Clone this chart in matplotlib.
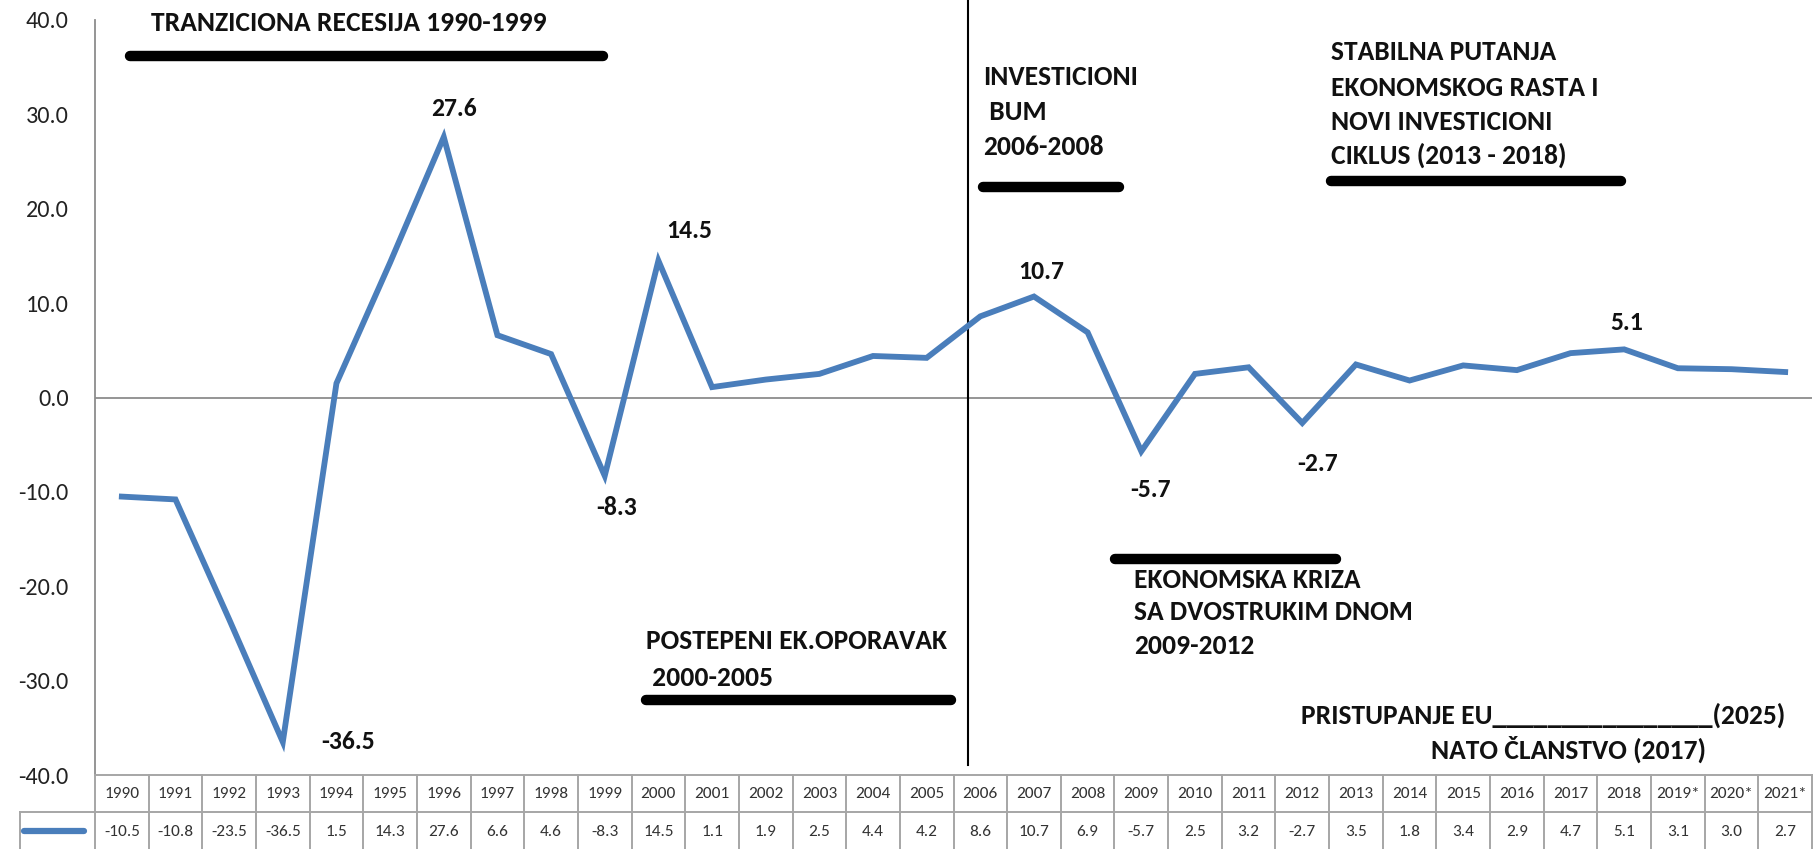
import matplotlib
matplotlib.use("Agg")
import matplotlib.pyplot as plt
import matplotlib.transforms as mtrans
from matplotlib import font_manager as fm

# ---------------- data ----------------
years = ["1990", "1991", "1992", "1993", "1994", "1995", "1996", "1997", "1998", "1999",
         "2000", "2001", "2002", "2003", "2004", "2005", "2006", "2007", "2008", "2009",
         "2010", "2011", "2012", "2013", "2014", "2015", "2016", "2017", "2018", "2019*",
         "2020*", "2021*"]
growth = [-10.5, -10.8, -23.5, -36.5, 1.5, 14.3, 27.6, 6.6, 4.6, -8.3,
          14.5, 1.1, 1.9, 2.5, 4.4, 4.2, 8.6, 10.7, 6.9, -5.7,
          2.5, 3.2, -2.7, 3.5, 1.8, 3.4, 2.9, 4.7, 5.1, 3.1,
          3.0, 2.7]
labelled_years = ["1993", "1996", "1999", "2000", "2007", "2009", "2012", "2018"]
yticks = [-40, -30, -20, -10, 0, 10, 20, 30, 40]

# ---------------- fonts ----------------
names = {f.name for f in fm.fontManager.ttflist}
cands = ["Carlito", "Liberation Sans Narrow", "Roboto Condensed", "Open Sans Condensed",
         "Arial Narrow", "Lato", "Noto Sans", "DejaVu Sans"]
FONT = next(c for c in cands if c in names)
FAM = [FONT, "DejaVu Sans"]
plt.rcParams["font.family"] = FAM
plt.rcParams["axes.unicode_minus"] = False

W, H = 1818, 849
fig = plt.figure(figsize=(W / 100, H / 100), dpi=100)
ax = fig.add_axes([95 / W, 1 - 775 / H, (1812 - 95) / W, (775 - 20) / H])
renderer = fig.canvas.get_renderer()


def fit(s, target_px, weight="normal"):
    t = fig.text(0, 0, s, fontsize=10, fontweight=weight)
    w = t.get_window_extent(renderer=renderer).width
    t.remove()
    return 10 * target_px / w


ANN = fit("TRANZICIONA RECESIJA 1990-1999", 394, "bold")
LAB = fit("27.6", 46, "bold")
TCK = fit("40.0", 43)
TAB = fit("1990", 35)

BLUE = "#4a7ebb"
GRID = "#a6a6a6"

x = list(range(len(years)))
ax.plot(x, growth, color=BLUE, lw=4.2, solid_joinstyle="miter", zorder=3)
ax.axhline(0, color="#8c8c8c", lw=1.3, zorder=1)

ax.set_xlim(-0.5, len(years) - 0.5)
ax.set_ylim(-40, 40)
ax.set_yticks(yticks)
ax.set_yticklabels([f"{v:.1f}" for v in yticks], fontsize=TCK, color="#222222")
ax.set_xticks([])
ax.tick_params(axis="y", length=0, pad=19)
for s in ["top", "right", "bottom"]:
    ax.spines[s].set_visible(False)
ax.spines["left"].set_color("#8c8c8c")
ax.spines["left"].set_linewidth(1.3)

# data labels
offsets = {"1993": (65, 0), "1996": (10, 29), "1999": (12, -32), "2000": (31, 30),
           "2007": (7, 25), "2009": (9, -38), "2012": (15, -41), "2018": (3, 27)}
for yr in labelled_years:
    i = years.index(yr)
    ax.annotate(f"{growth[i]:.1f}", (i, growth[i]), xytext=offsets[yr],
                textcoords="offset pixels", ha="center", va="center",
                fontsize=LAB, fontweight="bold", color="#111111", zorder=4)

# vertical divider
ax.plot([15.77, 15.77], [42.2, -38.9], color="black", lw=1.5, clip_on=False, zorder=2)

# period bars
bar_kw = dict(color="black", lw=7.5, solid_capstyle="round", clip_on=False, zorder=2)
ax.plot([0.15, 8.97], [36.2, 36.2], **bar_kw)
ax.plot([16.05, 18.58], [22.3, 22.3], **bar_kw)
ax.plot([22.53, 27.94], [22.95, 22.95], **bar_kw)
ax.plot([9.77, 15.45], [-32.0, -32.0], **bar_kw)
ax.plot([18.51, 22.63], [-17.1, -17.1], **bar_kw)

tkw = dict(fontsize=ANN, fontweight="bold", color="#111111", va="center", clip_on=False)
ax.text(0.54, 39.7, "TRANZICIONA RECESIJA 1990-1999", ha="left", **tkw)
for txt, yy in zip(["INVESTICIONI", " BUM", "2006-2008"], [34.0, 30.2, 26.5]):
    ax.text(16.05, yy, txt, ha="left", **tkw)
for txt, yy in zip(["STABILNA PUTANJA", "EKONOMSKOG RASTA I", "NOVI INVESTICIONI",
                    "CIKLUS (2013 - 2018)"], [36.6, 32.8, 29.2, 25.7]):
    ax.text(22.53, yy, txt, ha="left", **tkw)
for txt, yy in zip(["POSTEPENI EK.OPORAVAK", " 2000-2005"], [-25.8, -29.7]):
    ax.text(9.77, yy, txt, ha="left", **tkw)
for txt, yy in zip(["EKONOMSKA KRIZA", "SA DVOSTRUKIM DNOM", "2009-2012"], [-19.3, -22.7, -26.3]):
    ax.text(18.86, yy, txt, ha="left", **tkw)
ax.text(31.0, -33.7, "PRISTUPANJE EU________________(2025)", ha="right", **tkw)
ax.text(26.97, -37.3, "NATO ČLANSTVO (2017)", ha="center", **tkw)

# ---------------- data table ----------------
tr = mtrans.blended_transform_factory(ax.transData, fig.transFigure)
trf = fig.transFigure


def fy(py):
    return 1 - py / H


top, mid, bot = 775, 812, 849
lkw = dict(color=GRID, lw=1.4, clip_on=False, zorder=1)
fig.add_artist(plt.Line2D([95 / W, 1812 / W], [fy(top), fy(top)], transform=trf, **lkw))
fig.add_artist(plt.Line2D([20 / W, 1812 / W], [fy(mid), fy(mid)], transform=trf, **lkw))
fig.add_artist(plt.Line2D([20 / W, 20 / W], [fy(mid), fy(bot)], transform=trf, **lkw))
for b in range(len(years) + 1):
    xb = b - 0.5
    fig.add_artist(plt.Line2D([xb, xb], [fy(top), fy(bot)], transform=tr, **lkw))
for i, (yr, v) in enumerate(zip(years, growth)):
    fig.text(i, fy((top + mid) / 2), yr, transform=tr, ha="center", va="center",
             fontsize=TAB, color="#333333")
    fig.text(i, fy((mid + bot) / 2 + 1), f"{v:.1f}", transform=tr, ha="center", va="center",
             fontsize=TAB, color="#333333")
fig.add_artist(plt.Line2D([24 / W, 84 / W], [fy(831), fy(831)], transform=trf,
                          color=BLUE, lw=4.5, solid_capstyle="round"))

fig.savefig("out.png", dpi=100)
